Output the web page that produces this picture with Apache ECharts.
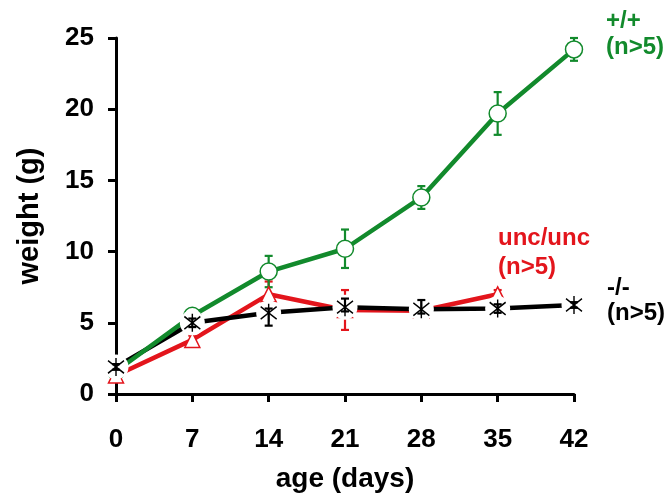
<!DOCTYPE html>
<html><head><meta charset="utf-8">
<script src="https://cdn.jsdelivr.net/npm/echarts@6/dist/echarts.min.js"></script>
<style>html,body{margin:0;padding:0;background:#fff}#c{width:672px;height:499px}</style>
</head><body><div id="c"></div>
<script>
const days = [0, 7, 14, 21, 28, 35, 42];
const xTicks = [0, 7, 14, 21, 28, 35, 42];
const yTicks = [0, 5, 10, 15, 20, 25];
// +/+ (wild type)
const wtMean = [1.6, 5.5, 8.6, 10.2, 13.8, 19.7, 24.2];
const wtErrLo = [0.2, 0.3, 1.1, 1.35, 0.8, 1.5, 0.8];
const wtErrHi = [0.2, 0.3, 1.1, 1.35, 0.8, 1.5, 0.8];
// unc/unc
const uncMean = [1.3, 3.8, 7.0, 5.9, 5.85, 7.0, null];
const uncErrLo = [0.2, 0.3, 0.9, 1.4, 0.2, 0.3, null];
const uncErrHi = [0.2, 0.3, 0.9, 1.4, 0.2, 0.3, null];
// -/-
const koMean = [1.9, 5.0, 5.7, 6.1, 5.95, 6.0, 6.25];
const koErrLo = [0.2, 0.3, 0.9, 0.3, 0.3, 0.3, 0.2];
const koErrHi = [0.2, 0.3, 0.3, 0.6, 0.65, 0.3, 0.2];

const GREEN = '#128a2c', RED = '#e3151c', BLACK = '#000000';
const FONT = 'Liberation Sans, Arial, sans-serif';

function pts(mean){ return days.map((d,i)=> mean[i]==null ? null : [d, mean[i]]).filter(Boolean); }
function errs(mean, lo, hi){ return days.map((d,i)=> mean[i]==null ? null : [d, mean[i]-lo[i], mean[i]+hi[i]]).filter(Boolean); }

function errSeries(mean, lo, hi, color, z){
  return {
    type:'custom', z:z, silent:true,
    data: errs(mean, lo, hi),
    encode:{x:0, y:[1,2]},
    renderItem: function(params, api){
      const x = api.value(0);
      const a = api.coord([x, api.value(1)]);
      const b = api.coord([x, api.value(2)]);
      const hw = 4;
      const st = {stroke: color, lineWidth: 2.2};
      return {type:'group', children:[
        {type:'line', shape:{x1:a[0], y1:a[1], x2:b[0], y2:b[1]}, style:st},
        {type:'line', shape:{x1:a[0]-hw, y1:a[1], x2:a[0]+hw, y2:a[1]}, style:st},
        {type:'line', shape:{x1:b[0]-hw, y1:b[1], x2:b[0]+hw, y2:b[1]}, style:st}
      ]};
    }
  };
}
function lineSeries(mean, color, z){
  return {type:'line', data: pts(mean), symbol:'none', z:z, silent:true,
    lineStyle:{color:color, width:4.5}};
}

const chart = echarts.init(document.getElementById('c'), null, {renderer:'canvas'});
chart.setOption({
  animation:false,
  backgroundColor:'#ffffff',
  grid:{left:116, right:98, top:38, bottom:105},
  xAxis:{type:'value', min:0, max:42, interval:7,
    name:'age (days)', nameLocation:'middle', nameGap:71,
    nameTextStyle:{fontFamily:FONT, fontWeight:'bold', fontSize:28, color:'#000'},
    axisLine:{lineStyle:{color:'#000', width:3}},
    axisTick:{length:8, lineStyle:{color:'#000', width:3}},
    axisLabel:{margin:33, fontFamily:FONT, fontWeight:'bold', fontSize:26, color:'#000',
      formatter: v => xTicks.includes(v) ? String(v) : ''},
    splitLine:{show:false}},
  yAxis:{type:'value', min:0, max:25, interval:5,
    name:'weight (g)', nameLocation:'middle', nameGap:72,
    nameTextStyle:{fontFamily:FONT, fontWeight:'bold', fontSize:29, color:'#000'},
    axisLine:{show:true, lineStyle:{color:'#000', width:3}},
    axisTick:{show:true, length:8, lineStyle:{color:'#000', width:3}},
    axisLabel:{margin:22, fontFamily:FONT, fontWeight:'bold', fontSize:26, color:'#000',
      formatter: v => yTicks.includes(v) ? String(v) : ''},
    splitLine:{show:false}},
  series:[
    lineSeries(uncMean, RED, 2),
    lineSeries(koMean, BLACK, 2.1),
    lineSeries(wtMean, GREEN, 2.2),
    errSeries(uncMean, uncErrLo, uncErrHi, RED, 2.5),
    errSeries(wtMean, wtErrLo, wtErrHi, GREEN, 2.5),
    {type:'scatter', data:pts(wtMean), symbol:'circle', symbolSize:17, z:3, silent:true,
      itemStyle:{color:'#ffffff', borderColor:GREEN, borderWidth:1.5, opacity:1}},
    {type:'scatter', data:pts(uncMean), symbol:'triangle', symbolSize:[15,15], z:3, silent:true,
      itemStyle:{color:'#ffffff', borderColor:RED, borderWidth:1.5, opacity:1}},
    {type:'scatter', data:pts(koMean), symbol:'circle', symbolSize:25, z:4, silent:true,
      itemStyle:{color:'#ffffff', opacity:1}},
    errSeries(koMean, koErrLo, koErrHi, BLACK, 5),
    {type:'scatter', data:pts(koMean), symbol:'path://M0,-10L0,10M-8,-7L8,7M-8,7L8,-7', symbolSize:[16,18], z:6, silent:true,
      itemStyle:{color:'none', borderColor:BLACK, borderWidth:1.5, opacity:1}}
  ],
  graphic:[
    {type:'text', left:606, top:8, style:{text:'+/+\n(n>5)', fill:GREEN, font:'bold 24px '+FONT, lineHeight:26}},
    {type:'text', left:498, top:224, style:{text:'unc/unc\n(n>5)', fill:RED, font:'bold 24px '+FONT, lineHeight:29}},
    {type:'text', left:607, top:276, style:{text:'-/-\n(n>5)', fill:BLACK, font:'bold 24px '+FONT, lineHeight:25}}
  ]
});
</script></body></html>
